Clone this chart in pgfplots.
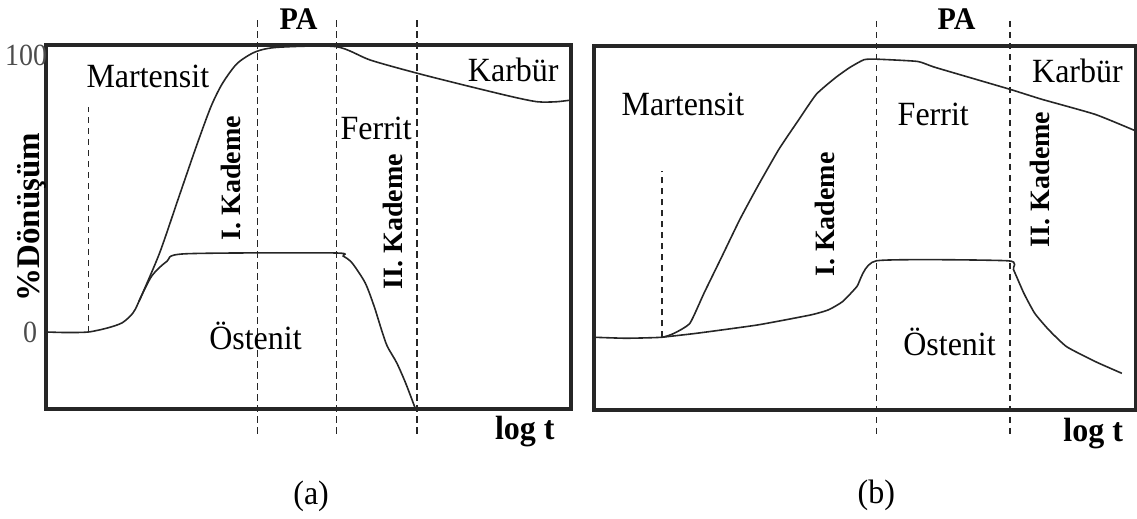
\documentclass[border=0pt]{standalone}
\usepackage{fontspec}
\setmainfont{Liberation Serif}
\usepackage{pgfplots}
\pgfplotsset{compat=1.18}

\newcommand{\rl}{\fontsize{16}{18}\selectfont}
\newcommand{\bl}{\fontsize{14}{16}\selectfont\bfseries}

\pgfplotsset{
  phase/.style={
    scale only axis, clip=false,
    xmin=0, xmax=100,
    xtick=\empty, ytick=\empty,
    axis line style={line width=1.6pt, black!85},
    every node/.append style={text=black!90},
  },
  curve/.style={black!85, line width=0.8pt, no marks},
  stage/.style={black!85, line width=0.8pt, dash pattern=on 3.2pt off 2.3pt, no marks},
}

\begin{document}
\begin{tikzpicture}
\path[use as bounding box] (0,0) rectangle (568.5pt,259.5pt);

% ---------------- (a) ----------------
\begin{axis}[phase, at={(23pt,55pt)}, anchor=south west,
  width=262.5pt, height=182pt, ymin=-27, ymax=100.6]
  % transformation curve (upper)
  \addplot[curve, smooth, tension=0.45] coordinates {
    (0,0) (4,-0.2) (8.1,0) (11.7,1.4) (14.5,3.2) (16.5,6.5) (17.7,10.7)
    (21.6,27.5) (25.1,46.2) (28.6,64.9) (31.4,78.9) (33.6,87.1) (36.4,94.1)
    (39.9,98.2) (44.2,99.8) (55.3,100) (61.8,95.3) (70.7,90.7) (79.5,86.6)
    (88.7,82.5) (93.6,80.7) (97.2,80.7) (100,81.3)};
  % austenite boundary (lower)
  \addplot[curve, smooth, tension=0.45] coordinates {
    (17.7,10.7) (20.1,19.5) (23.0,24.7) (26.5,27.4) (54.8,27.7) (56.6,26.6)
    (58.3,24.2) (60.8,17.2) (62.5,9.0) (63.9,0.8) (65.0,-5.0) (66.8,-10.8)
    (68.5,-17.9) (70.3,-26.6)};
  % stage boundaries
  \addplot[stage] coordinates {(8.1,0) (8.1,79)};
  \addplot[stage] coordinates {(40.3,109.3) (40.3,-35.9)};
  \addplot[stage] coordinates {(55.3,109.3) (55.3,-35.9)};
  \addplot[stage] coordinates {(70.7,109.3) (70.7,-35.9)};

  \node[text=black!70, yscale=1.1] at (axis cs:-3.8,97) {\fontsize{14}{16}\selectfont 100};
  \node[text=black!70, yscale=1.1] at (axis cs:-3.0,0) {\fontsize{14}{16}\selectfont 0};
  \node[rotate=90] at (axis cs:-2.76,40.3) {\fontsize{16.5}{18}\selectfont\bfseries \%Dönüşüm};
  \node[yscale=1.05] at (axis cs:48.1,109.8) {\fontsize{15}{17}\selectfont\bfseries PA};
  \node[yscale=1.06] at (axis cs:19.4,89.5) {\rl Martensit};
  \node[yscale=1.06] at (axis cs:89.0,91.8) {\rl Karbür};
  \node[yscale=1.06] at (axis cs:62.9,71.4) {\rl Ferrit};
  \node[rotate=90] at (axis cs:35.3,53.9) {\bl I. Kademe};
  \node[rotate=90] at (axis cs:66.1,38.7) {\bl II. Kademe};
  \node[yscale=1.06] at (axis cs:39.9,-1.5) {\rl Östenit};
  \node[yscale=1.05] at (axis cs:91.2,-34.8) {\fontsize{16}{18}\selectfont\bfseries log t};
  \node[yscale=1.06] at (axis cs:50.5,-57.5) {\rl (a)};
\end{axis}

% ---------------- (b) ----------------
\begin{axis}[phase, at={(297pt,54.5pt)}, anchor=south west,
  width=271pt, height=182pt, ymin=-25.4, ymax=101.7]
  % transformation curve (upper)
  \addplot[curve, smooth, tension=0.3] coordinates {
    (0,0) (5.9,-0.35) (12.5,0) (14.8,1.4) (17.7,4.9) (20.3,15.4) (23.6,28.2)
    (26.9,41.1) (30.2,52.7) (34.1,65.6) (37.4,74.9) (41.0,84.8) (44.6,90.7)
    (47.2,94.2) (49.8,96.9) (52.1,97.1) (59.7,96.3) (63.0,94.2) (76.7,86.6)
    (82.6,83.1) (92.5,77.8) (100,72.0)};
  % austenite boundary (lower)
  \addplot[curve, smooth, tension=0.3] coordinates {
    (12.5,0) (19.0,1.4) (30.2,4.3) (40.0,7.8) (43.3,9.6) (45.9,12.5)
    (48.5,17.7) (52.1,26.7) (76.4,26.7) (77.4,23.6) (79.3,15.4) (81.3,8.4)
    (83.9,2.6) (87.2,-3.3) (92.5,-8.5) (97.4,-12.6)};
  % stage boundaries
  \addplot[stage] coordinates {(12.5,0) (12.5,58)};
  \addplot[stage] coordinates {(52.1,110.5) (52.1,-34.8)};
  \addplot[stage] coordinates {(76.7,110.5) (76.7,-34.8)};

  \node[yscale=1.05] at (axis cs:66.9,111.1) {\fontsize{15}{17}\selectfont\bfseries PA};
  \node[yscale=1.06] at (axis cs:89.2,93.0) {\rl Karbür};
  \node[yscale=1.06] at (axis cs:16.4,81.3) {\rl Martensit};
  \node[yscale=1.06] at (axis cs:62.6,77.8) {\rl Ferrit};
  \node[rotate=90] at (axis cs:42.6,42.8) {\bl I. Kademe};
  \node[rotate=90] at (axis cs:82.3,55.1) {\bl II. Kademe};
  \node[yscale=1.06] at (axis cs:65.6,-1.5) {\rl Östenit};
  \node[yscale=1.05] at (axis cs:92.1,-33.6) {\fontsize{16}{18}\selectfont\bfseries log t};
  \node[yscale=1.06] at (axis cs:52.1,-55.2) {\rl (b)};
\end{axis}
\end{tikzpicture}
\end{document}
